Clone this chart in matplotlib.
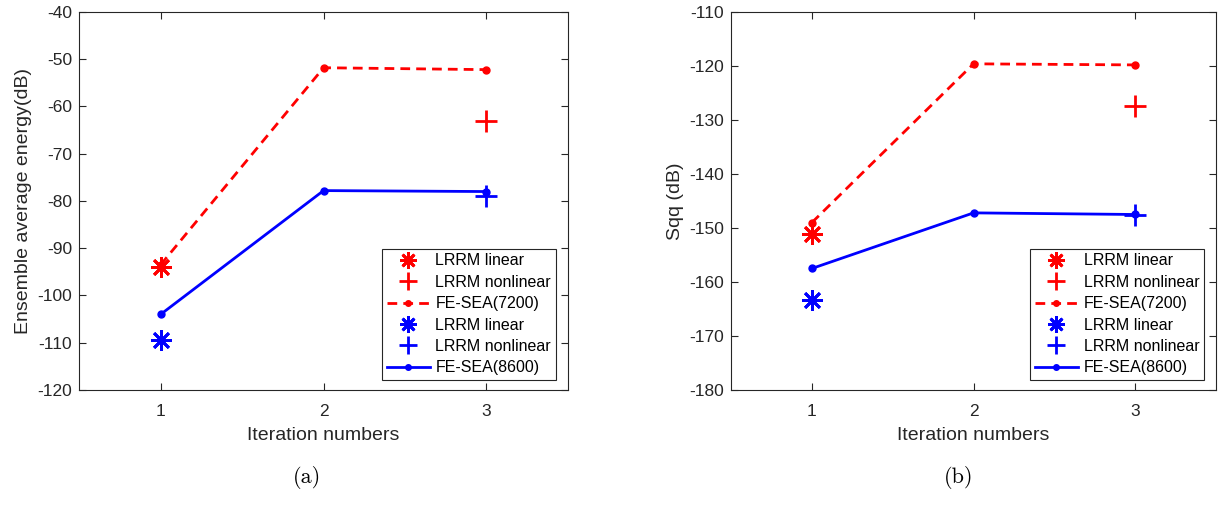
import numpy as np
import matplotlib
matplotlib.use("Agg")
import matplotlib.pyplot as plt

plt.rcParams['font.family'] = ['Liberation Sans', 'DejaVu Sans']
plt.rcParams['axes.unicode_minus'] = False

# data
iters = [1, 2, 3]

# (a) ensemble average energy
a_fesea_7200 = [-93.5, -51.8, -52.2]
a_fesea_8600 = [-104.0, -77.8, -78.0]
a_lin_red, a_nonlin_red = -94.0, -63.0
a_lin_blue, a_nonlin_blue = -109.5, -79.0

# (b) Sqq
b_fesea_7200 = [-149.0, -119.6, -119.8]
b_fesea_8600 = [-157.5, -147.2, -147.5]
b_lin_red, b_nonlin_red = -151.2, -127.5
b_lin_blue, b_nonlin_blue = -163.3, -147.6

ast = (8, 2, 0)
dark = '#262626'

fig = plt.figure(figsize=(12.18, 5.08), dpi=100)
ax1 = fig.add_axes([0.065, 0.2323, 0.4013, 0.7441])
ax2 = fig.add_axes([0.6002, 0.2323, 0.3982, 0.7441])


def draw(ax, fe72, fe86, lr, nr, lb, nb, ylim, ylabel):
    ax.plot(1, lr, color='red', marker=ast, ms=15, mew=2, ls='none', label='LRRM linear')
    ax.plot(3, nr, color='red', marker='+', ms=16, mew=2, ls='none', label='LRRM nonlinear')
    ax.plot(iters, fe72, color='red', ls=(0, (3.5, 2.2)), lw=2, marker='o', ms=5,
            label='FE-SEA(7200)')
    ax.plot(1, lb, color='blue', marker=ast, ms=15, mew=2, ls='none', label='LRRM linear')
    ax.plot(3, nb, color='blue', marker='+', ms=16, mew=2, ls='none', label='LRRM nonlinear')
    ax.plot(iters, fe86, color='blue', ls='-', lw=2, marker='o', ms=5,
            label='FE-SEA(8600)')

    ax.set_xlim(0.5, 3.5)
    ax.set_ylim(*ylim)
    ax.set_xticks(iters)
    ax.set_yticks(np.arange(ylim[0], ylim[1] + 1, 10))
    ax.tick_params(direction='in', top=True, right=True, labelsize=12.5,
                   colors=dark, length=5, width=0.8)
    ax.tick_params(axis='x', pad=10)
    ax.tick_params(axis='y', pad=5)
    for s in ax.spines.values():
        s.set_color(dark)
        s.set_linewidth(0.8)
    ax.set_xlabel('Iteration numbers', fontsize=14, color=dark, labelpad=6)
    ax.set_ylabel(ylabel, fontsize=14, color=dark)
    leg = ax.legend(loc='lower right', bbox_to_anchor=(0.975, 0.026), borderaxespad=0,
                    fontsize=11.5, fancybox=False, framealpha=1, edgecolor=dark,
                    handlelength=2.7, labelspacing=0.4, handletextpad=0.35,
                    borderpad=0.3, markerscale=0.8)
    leg.get_frame().set_linewidth(0.8)


draw(ax1, a_fesea_7200, a_fesea_8600, a_lin_red, a_nonlin_red,
     a_lin_blue, a_nonlin_blue, (-120, -40), 'Ensemble average energy(dB)')
draw(ax2, b_fesea_7200, b_fesea_8600, b_lin_red, b_nonlin_red,
     b_lin_blue, b_nonlin_blue, (-180, -110), 'Sqq (dB)')

fig.text(0.252, 0.061, '(a)', fontsize=16, family='cmr10', ha='center', va='center')
fig.text(0.787, 0.061, '(b)', fontsize=16, family='cmr10', ha='center', va='center')

fig.savefig('out.png', dpi=100)
